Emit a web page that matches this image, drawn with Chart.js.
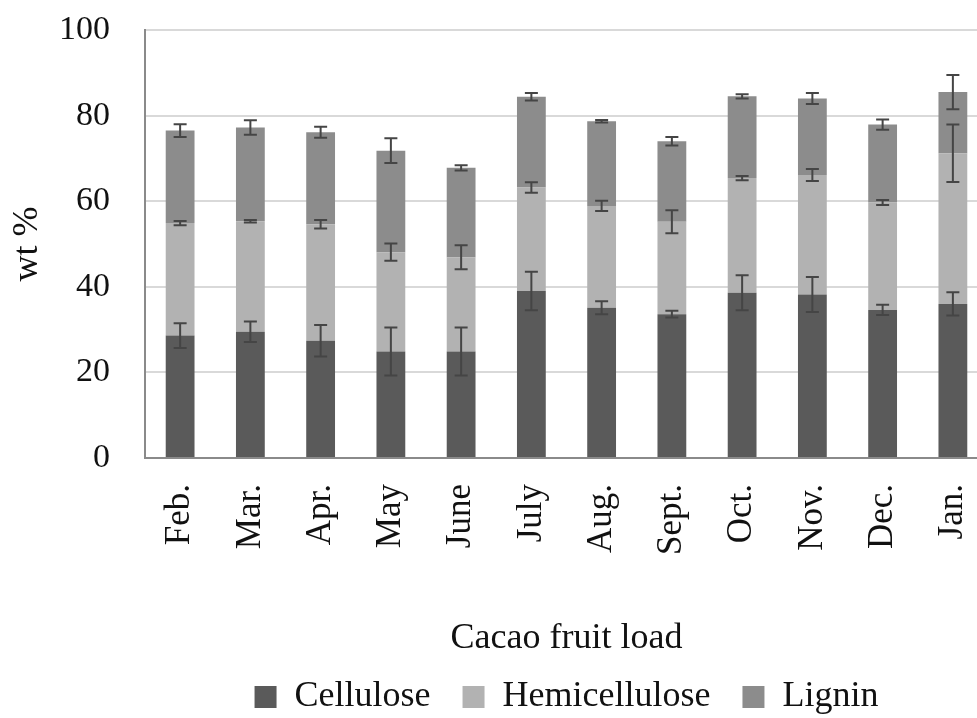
<!DOCTYPE html>
<html>
<head>
<meta charset="utf-8">
<title>Cacao fruit load composition</title>
<script src="https://cdn.jsdelivr.net/npm/chart.js@4"></script>
<style>
    html, body { margin: 0; padding: 0; background: #fff; overflow: hidden; }
    #wrap { width: 988px; height: 718px; }
</style>
</head>
<body>
<div id="wrap"><canvas id="myChart"></canvas></div>
<script>
const months = ['Feb.', 'Mar.', 'Apr.', 'May', 'June', 'July', 'Aug.', 'Sept.', 'Oct.', 'Nov.', 'Dec.', 'Jan.'];

// wt % of each fraction per month (stacked)
const cellulose     = [28.6, 29.5, 27.4, 24.9, 24.9, 39.0, 35.1, 33.6, 38.6, 38.2, 34.6, 36.0];
const hemicellulose = [26.3, 25.8, 27.2, 23.2, 22.0, 24.2, 23.8, 21.6, 26.8, 27.9, 25.1, 35.2];
const lignin        = [21.6, 21.9, 21.5, 23.7, 20.9, 21.2, 19.8, 18.8, 19.1, 17.9, 18.2, 14.3];

// standard deviations
const celluloseErr     = [2.9, 2.4, 3.7, 5.6, 5.6, 4.5, 1.5, 0.8, 4.1, 4.1, 1.2, 2.7];
const hemicelluloseErr = [0.5, 0.3, 1.0, 2.0, 2.8, 1.2, 1.2, 2.7, 0.5, 1.4, 0.6, 6.7];
const ligninErr        = [1.5, 1.7, 1.3, 2.9, 0.6, 0.9, 0.3, 1.0, 0.5, 1.3, 1.2, 4.0];

const yTicks = [0, 20, 40, 60, 80, 100];

Chart.defaults.font.family = "'Liberation Serif', 'Times New Roman', serif";
Chart.defaults.color = '#111';

// error bars drawn on top of each stacked segment
const errorBars = {
    id: 'errorBars',
    afterDatasetsDraw(chart) {
        const ctx = chart.ctx;
        const yScale = chart.scales.y;
        const sets = chart.data.datasets;
        ctx.save();
        ctx.strokeStyle = '#454545';
        ctx.lineWidth = 2;
        sets.forEach((ds, d) => {
            const meta = chart.getDatasetMeta(d);
            meta.data.forEach((bar, i) => {
                let total = 0;
                for (let k = 0; k <= d; k++) total += sets[k].data[i];
                const err = ds.errors[i];
                const hi = yScale.getPixelForValue(total + err);
                const lo = yScale.getPixelForValue(total - err);
                const x = bar.x;
                const cap = 6.5;
                ctx.beginPath();
                ctx.moveTo(x, hi); ctx.lineTo(x, lo);
                ctx.moveTo(x - cap, hi); ctx.lineTo(x + cap, hi);
                ctx.moveTo(x - cap, lo); ctx.lineTo(x + cap, lo);
                ctx.stroke();
            });
        });
        ctx.restore();
    }
};

const ctx = document.getElementById('myChart').getContext('2d');

const myChart = new Chart(ctx, {
    type: 'bar',
    data: {
        labels: months,
        datasets: [{
            label: 'Cellulose',
            data: cellulose,
            errors: celluloseErr,
            backgroundColor: '#5a5a5a'
        }, {
            label: 'Hemicellulose',
            data: hemicellulose,
            errors: hemicelluloseErr,
            backgroundColor: '#b2b2b2'
        }, {
            label: 'Lignin',
            data: lignin,
            errors: ligninErr,
            backgroundColor: '#8c8c8c'
        }]
    },
    plugins: [errorBars],
    options: {
        responsive: true,
        maintainAspectRatio: false,
        animation: false,
        datasets: {
            bar: {
                categoryPercentage: 1,
                barPercentage: 0.41,
                borderWidth: 0
            }
        },
        layout: {
            padding: { top: 30, bottom: -7, left: 0, right: 0 }
        },
        plugins: {
            tooltip: { enabled: false },
            legend: {
                position: 'bottom',
                fullSize: false,
                labels: {
                    boxWidth: 22,
                    boxHeight: 22,
                    padding: 32,
                    color: '#111',
                    font: { size: 36 }
                }
            }
        },
        scales: {
            x: {
                stacked: true,
                grid: { display: false, drawTicks: false },
                border: { display: true, color: '#8a8a8a', width: 2 },
                ticks: {
                    minRotation: 90,
                    maxRotation: 90,
                    padding: 26,
                    color: '#111',
                    font: { size: 35 }
                },
                title: {
                    display: true,
                    text: 'Cacao fruit load',
                    color: '#111',
                    font: { size: 36 },
                    padding: { top: 0, bottom: -13 }
                },
                // fixed band under the plot, no extra side padding for rotated labels
                afterFit: axis => {
                    axis.height = 189;
                    axis.paddingLeft = 0;
                    axis.paddingRight = 0;
                }
            },
            y: {
                stacked: true,
                min: 0,
                max: 100,
                afterBuildTicks: axis => {
                    axis.ticks = yTicks.map(v => ({ value: v }));
                },
                grid: { color: '#d9d9d9', lineWidth: 2, drawTicks: false },
                border: { display: true, color: '#8a8a8a', width: 2 },
                ticks: {
                    padding: 35,
                    color: '#111',
                    font: { size: 34 }
                },
                title: {
                    display: true,
                    text: 'wt %',
                    color: '#111',
                    font: { size: 36 },
                    padding: { top: 6, bottom: 0 }
                },
                afterFit: axis => {
                    axis.width = 145;
                    axis.paddingTop = 0;
                    axis.paddingBottom = 0;
                }
            }
        }
    }
});
</script>
</body>
</html>
